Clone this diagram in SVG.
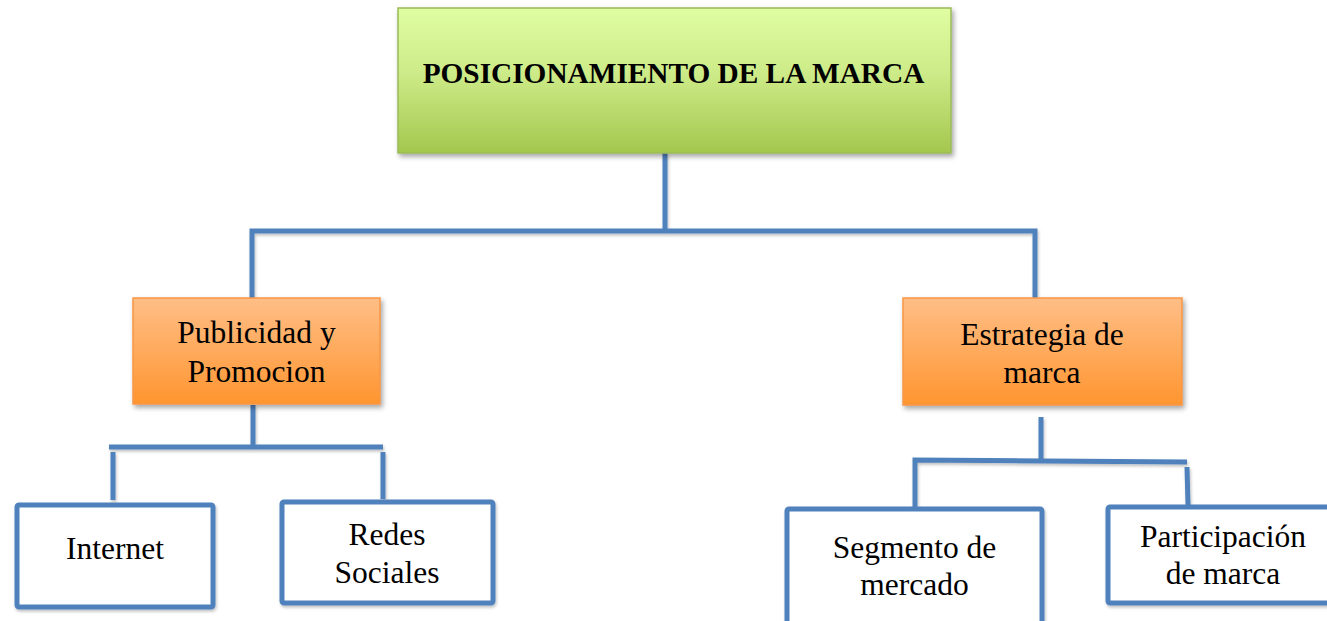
<svg xmlns="http://www.w3.org/2000/svg" width="1327" height="621" viewBox="0 0 1327 621">
  <defs>
    <linearGradient id="gGreen" x1="0" y1="0" x2="0" y2="1">
      <stop offset="0" stop-color="#DFFEA2"/>
      <stop offset="0.45" stop-color="#CDEB88"/>
      <stop offset="1" stop-color="#A3C74E"/>
    </linearGradient>
    <linearGradient id="gOrange" x1="0" y1="0" x2="0" y2="1">
      <stop offset="0" stop-color="#FFBE86"/>
      <stop offset="0.5" stop-color="#FFAA5C"/>
      <stop offset="1" stop-color="#FF9530"/>
    </linearGradient>
    <filter id="shadow" x="-10%" y="-10%" width="130%" height="140%">
      <feDropShadow dx="2" dy="3" stdDeviation="2.5" flood-color="#000" flood-opacity="0.35"/>
    </filter>
    <filter id="lshadow" x="-20%" y="-20%" width="140%" height="140%">
      <feDropShadow dx="1" dy="2" stdDeviation="1.5" flood-color="#000" flood-opacity="0.25"/>
    </filter>
  </defs>
  <style>
    .conn { fill: none; stroke: #4F81BD; stroke-width: 5; stroke-linecap: butt; stroke-linejoin: miter; }
    .green { fill: url(#gGreen); stroke: #9BBB59; stroke-width: 1.5; }
    .orange { fill: url(#gOrange); stroke: #F79646; stroke-width: 1.5; }
    .white { fill: #FFFFFF; stroke: #4F81BD; stroke-width: 5; }
    .t { font-family: "Liberation Serif", "Times New Roman", serif; font-size: 31.5px; fill: #000; text-anchor: middle; }
    .tb { font-family: "Liberation Serif", "Times New Roman", serif; font-size: 29.3px; font-weight: bold; fill: #000; text-anchor: middle; }
  </style>
  <rect x="0" y="0" width="1327" height="621" fill="#FFFFFF"/>

  <g id="connectors" filter="url(#lshadow)">
    <path class="conn" d="M665,153 V231"/>
    <path class="conn" d="M252,298 V231 H1035 V298"/>
    <path class="conn" d="M253,405 V447"/>
    <path class="conn" d="M109,447 H383"/>
    <path class="conn" d="M113,452 V500"/>
    <path class="conn" d="M383,452 V499"/>
    <path class="conn" d="M1041,417 V461"/>
    <path class="conn" d="M915,507 V460 L1187,462"/>
    <path class="conn" d="M1187,467 L1188,505"/>
  </g>

  <g id="node-posicionamiento">
    <rect class="green" x="398" y="8" width="553" height="145" filter="url(#shadow)"/>
    <text class="tb" x="673.5" y="83">POSICIONAMIENTO DE LA MARCA</text>
  </g>

  <g id="node-publicidad">
    <rect class="orange" x="133" y="298" width="247" height="106" filter="url(#shadow)"/>
    <text class="t" x="256.5" y="343">Publicidad y</text>
    <text class="t" x="256.5" y="382">Promocion</text>
  </g>

  <g id="node-estrategia">
    <rect class="orange" x="903" y="298" width="279" height="107" filter="url(#shadow)"/>
    <text class="t" x="1042" y="345">Estrategia de</text>
    <text class="t" x="1042" y="383">marca</text>
  </g>

  <g id="node-internet">
    <rect class="white" x="17" y="505" width="196" height="102" rx="2" filter="url(#lshadow)"/>
    <text class="t" x="115" y="559">Internet</text>
  </g>

  <g id="node-redes">
    <rect class="white" x="282" y="502" width="211" height="101" rx="2" filter="url(#lshadow)"/>
    <text class="t" x="387" y="545">Redes</text>
    <text class="t" x="387" y="583">Sociales</text>
  </g>

  <g id="node-segmento">
    <rect class="white" x="787" y="509" width="255" height="130" rx="2" filter="url(#lshadow)"/>
    <text class="t" x="914.5" y="558">Segmento de</text>
    <text class="t" x="914.5" y="595">mercado</text>
  </g>

  <g id="node-participacion">
    <rect class="white" x="1108" y="507" width="240" height="96" rx="2" filter="url(#lshadow)"/>
    <text class="t" x="1223" y="547">Participación</text>
    <text class="t" x="1223" y="584">de marca</text>
  </g>
</svg>
